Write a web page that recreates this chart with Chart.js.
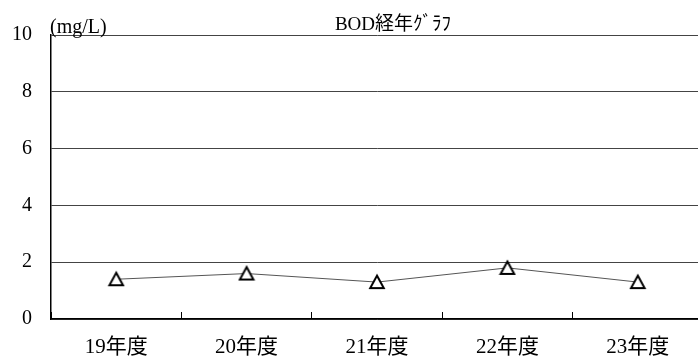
<!DOCTYPE html>
<html>
<head>
<meta charset="utf-8">
<script src="https://cdn.jsdelivr.net/npm/chart.js@4/dist/chart.umd.min.js"></script>
<style>
  html, body { margin: 0; padding: 0; background: #fff; overflow: hidden; }
  #wrap { width: 712px; height: 358px; }
</style>
</head>
<body>
<div id="wrap"><canvas id="c"></canvas></div>
<script>
const years = ["19年度", "20年度", "21年度", "22年度", "23年度"]
const bod = [1.4, 1.6, 1.3, 1.8, 1.3]
const yTicks = [0, 2, 4, 6, 8, 10]
const titleText = "BOD経年ｸﾞﾗﾌ"
const unitText = "(mg/L)"

const FONT = "'Liberation Serif', 'Noto Sans CJK JP', serif"

// open triangle marker, centred on its bounding box like the original
function makeTriangle() {
    const c = document.createElement("canvas")
    c.width = 18
    c.height = 18
    const g = c.getContext("2d")
    g.beginPath()
    g.moveTo(9, 2.5)
    g.lineTo(15.8, 15)
    g.lineTo(2.2, 15)
    g.closePath()
    g.fillStyle = "#fff"
    g.fill()
    g.lineWidth = 2
    g.strokeStyle = "#000"
    g.stroke()
    return c
}

// title and unit label drawn above the plot
const headerText = {
    id: "headerText",
    afterDraw(chart) {
        const ctx = chart.ctx
        const area = chart.chartArea
        ctx.save()
        ctx.fillStyle = "#000"
        ctx.textBaseline = "alphabetic"
        ctx.font = "20px " + FONT
        ctx.textAlign = "left"
        ctx.fillText(unitText, area.left - 1, area.top - 2)
        ctx.font = "19px " + FONT
        ctx.textAlign = "center"
        ctx.fillText(titleText, 393, area.top - 5)
        ctx.restore()
    }
}

new Chart(document.getElementById("c"), {
    type: "line",
    data: {
        labels: years,
        datasets: [{
            data: bod,
            borderColor: "#555",
            borderWidth: 1,
            pointStyle: makeTriangle(),
            pointRadius: 8,
            pointHoverRadius: 8,
            fill: false,
            tension: 0
        }]
    },
    options: {
        responsive: true,
        maintainAspectRatio: false,
        animation: false,
        layout: {padding: {top: 35, right: 6, left: 0, bottom: 0}},
        plugins: {legend: {display: false}, tooltip: {enabled: false}},
        scales: {
            x: {
                offset: true,
                grid: {
                    offset: true,
                    drawOnChartArea: false,
                    drawTicks: true,
                    tickLength: -7,
                    color: "#000",
                    lineWidth: 1
                },
                border: {color: "#000", width: 1.5},
                ticks: {
                    color: "#000",
                    font: {family: FONT, size: 21},
                    padding: 23,
                    maxRotation: 0
                },
                afterFit(scale) { scale.height = 39 }
            },
            y: {
                min: 0,
                max: 10,
                afterBuildTicks(scale) { scale.ticks = yTicks.map(v => ({value: v})) },
                grid: {
                    color: "#444",
                    lineWidth: 1,
                    drawTicks: false
                },
                border: {color: "#000", width: 1.5},
                ticks: {
                    color: "#000",
                    font: {family: FONT, size: 20},
                    padding: 19
                },
                afterFit(scale) { scale.width = 51 }
            }
        }
    },
    plugins: [headerText]
});
</script>
</body>
</html>
